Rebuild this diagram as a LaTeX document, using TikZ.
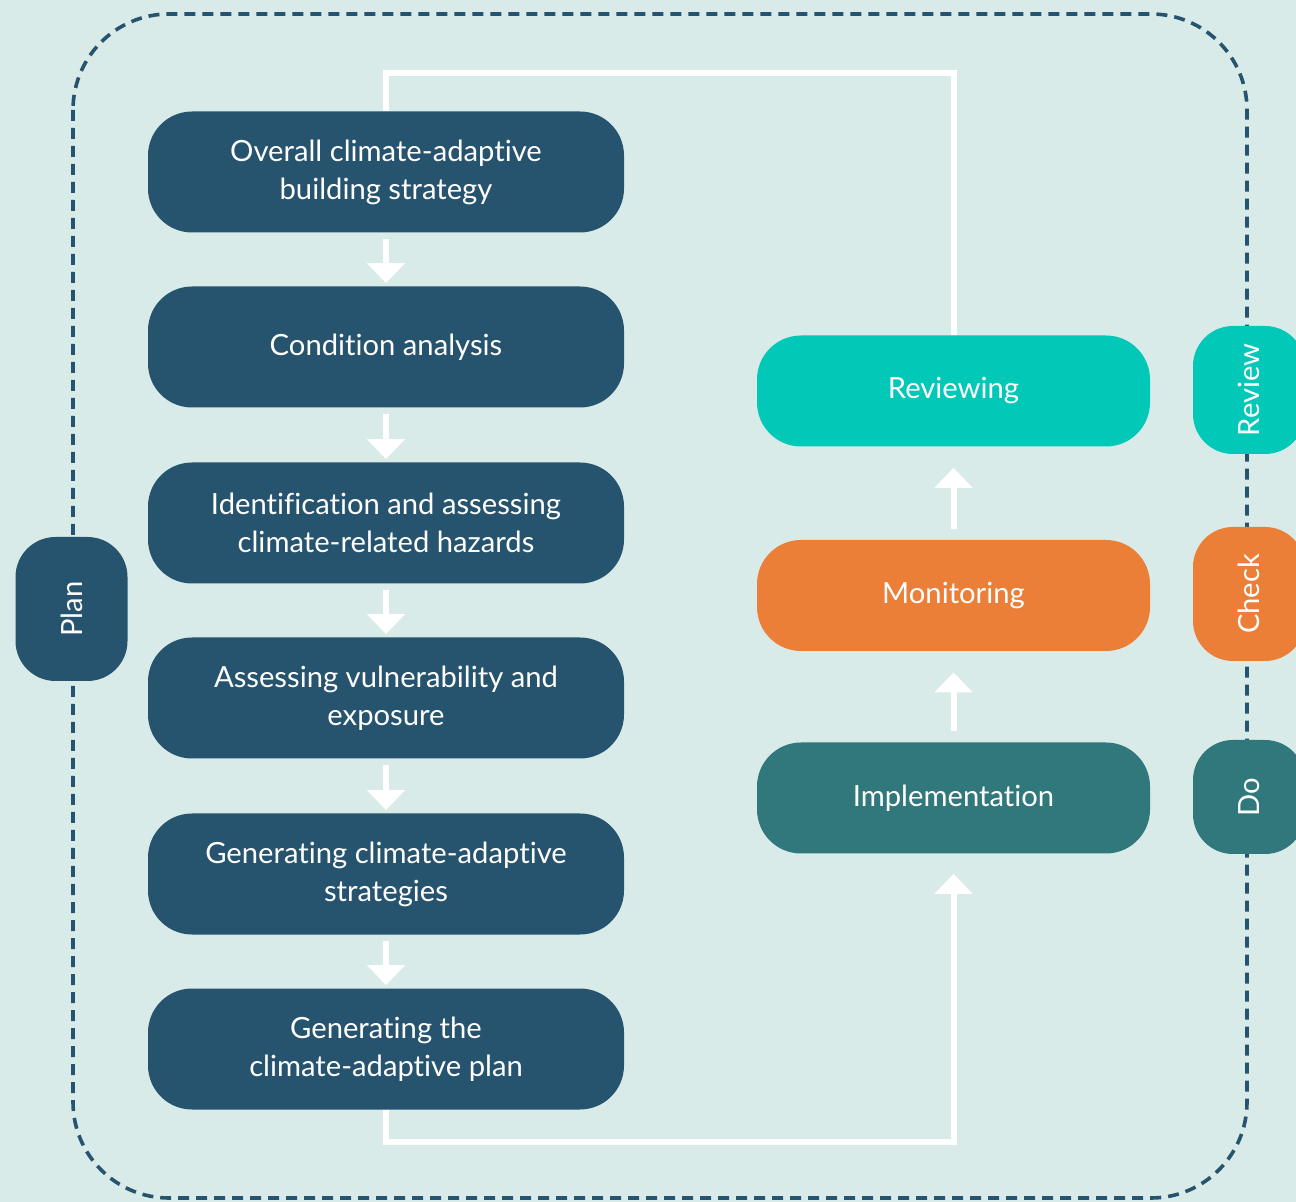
\documentclass[tikz,border=0pt]{standalone}
\usepackage{fontspec}
\setmainfont{Lato}[Ligatures=NoCommon]
\usetikzlibrary{arrows.meta}
\definecolor{bgcol}{RGB}{217,235,233}
\definecolor{navy}{RGB}{38,83,109}
\definecolor{turq}{RGB}{2,200,184}
\definecolor{orng}{RGB}{236,127,55}
\definecolor{petrol}{RGB}{48,120,123}

\begin{document}
\begin{tikzpicture}[x=0.5pt,y=-0.5pt,
    stage/.style={rounded corners=22pt,minimum width=238pt,minimum height=60.5pt,
                  fill=navy,text=white,align=center,font=\fontsize{14.6}{19}\selectfont},
    cycle/.style={rounded corners=22pt,minimum width=196.5pt,minimum height=55.5pt,
                  text=white,font=\fontsize{14.6}{19}\selectfont},
    tab/.style={rotate=90,rounded corners=20pt,minimum height=56pt,
                text=white,font=\fontsize{14.6}{19}\selectfont},
    flow/.style={white,line width=3pt,-{Triangle[width=18.5pt,length=10pt]}}]
  \clip (0,0) rectangle (1296,1202);
  \fill[bgcol] (0,0) rectangle (1296,1202);
  \draw[navy,line width=1.8pt,dash pattern=on 5.5pt off 3.5pt,rounded corners=48pt]
      (73,14) rectangle (1247,1198);

  % plan steps
  \node[stage] (b1) at (386,172) {Overall climate-adaptive\\building strategy};
  \node[stage] (b2) at (386,347) {Condition analysis};
  \node[stage] (b3) at (386,523) {Identification and assessing\\climate-related hazards};
  \node[stage] (b4) at (386,698) {Assessing vulnerability and\\exposure};
  \node[stage] (b5) at (386,874) {Generating climate-adaptive\\strategies};
  \node[stage] (b6) at (386,1049) {Generating the\\climate-adaptive plan};

  % do, check, review
  \node[cycle,fill=turq] (rev) at (953.5,391) {Reviewing};
  \node[cycle,fill=orng] (mon) at (953.5,595.5) {Monitoring};
  \node[cycle,fill=petrol] (impl) at (953.5,798) {Implementation};

  % side tabs
  \node[tab,fill=navy,minimum width=72pt] (plan) at (71.5,609) {Plan};
  \node[tab,fill=turq,minimum width=64pt] (review) at (1249,390) {Review};
  \node[tab,fill=orng,minimum width=67pt] (check) at (1249,594) {Check};
  \node[tab,fill=petrol,minimum width=57pt] (do) at (1249,797) {Do};

  \foreach \a/\b in {b1/b2,b2/b3,b3/b4,b4/b5,b5/b6}
    \draw[flow,shorten <=3pt,shorten >=1.5pt] (\a) -- (\b);
  \draw[flow,shorten <=5.5pt,shorten >=10.5pt] (impl) -- (mon);
  \draw[flow,shorten <=5.5pt,shorten >=10.5pt] (mon) -- (rev);

  \draw[flow,shorten >=10pt] (b6.south) -- ++(0,32) -| (impl.south);
  \draw[white,line width=3pt] (rev.north) -- ++(0,-262) -| (b1.north);
\end{tikzpicture}
\end{document}
